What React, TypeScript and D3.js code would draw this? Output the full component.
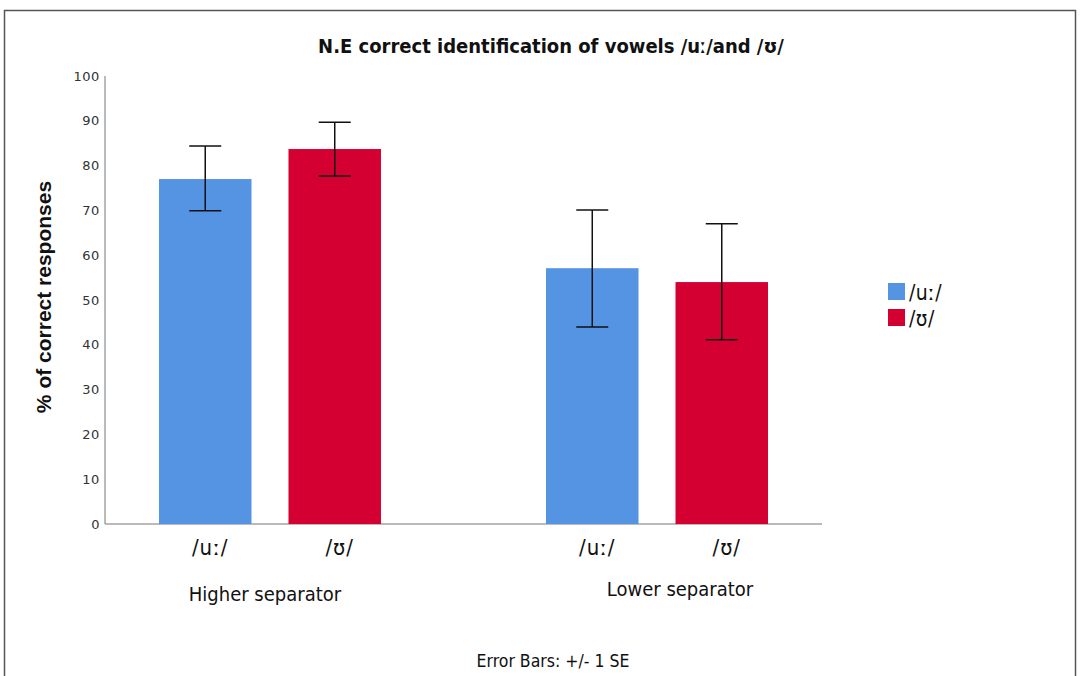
import React from "react";
import * as d3 from "d3";

const groups = ["Higher separator", "Lower separator"];
const series = ["/uː/", "/ʊ/"];
const seriesColors = ["#5594E2", "#D50032"];
const means = [
  [77.0, 83.7],
  [57.1, 54.0],
];
const errLow = [
  [69.9, 77.7],
  [44.0, 41.1],
];
const errHigh = [
  [84.4, 89.7],
  [70.1, 67.0],
];
const yTicks = [0, 10, 20, 30, 40, 50, 60, 70, 80, 90, 100];

const narrow = "'Liberation Sans Narrow', 'DejaVu Sans Condensed', 'Roboto Condensed', 'Liberation Sans', sans-serif";
const tickFont = "'DejaVu Sans', sans-serif";

export default function App() {
  const W = 1080, H = 676;
  const x0 = 105, x1 = 822, yBottom = 524, yTop = 76;
  const y = d3.scaleLinear().domain([0, 100]).range([yBottom, yTop]);
  const xg = d3.scaleBand().domain(groups).range([x0, x1]).paddingInner(0.4264).paddingOuter(0.1395);
  const xs = d3.scaleBand().domain(series).range([0, xg.bandwidth()]).paddingInner(0.2857).paddingOuter(0);
  const capW = 32;
  const groupLabelY = [601, 596];

  return (
    <svg width={W} height={H} style={{ position: "absolute", left: 0, top: 0, background: "#fff" }}>
      <rect x={4.5} y={10.5} width={1071} height={700} fill="none" stroke="#555" strokeWidth={1.5} />
      <text x={551} y={53} textAnchor="middle" fontFamily={narrow} fontWeight="bold" fontSize={20} fill="#111">
        N.E correct identification of vowels /uː/and /ʊ/
      </text>
      <line x1={x0} x2={x0} y1={yTop} y2={yBottom} stroke="#777" strokeWidth={1} />
      <line x1={x0} x2={x1} y1={yBottom} y2={yBottom} stroke="#777" strokeWidth={1} />
      {yTicks.map((t) => (
        <text key={t} x={100} y={y(t)} dy="0.35em" textAnchor="end" fontFamily={tickFont} fontSize={13} letterSpacing={0.6} fill="#333">
          {t}
        </text>
      ))}
      <text
        transform={`translate(51,297) rotate(-90)`}
        textAnchor="middle"
        fontFamily="'Liberation Sans', sans-serif"
        fontWeight="bold"
        fontSize={21}
        fill="#111"
      >
        % of correct responses
      </text>
      {groups.map((g, gi) => (
        <g key={g} transform={`translate(${xg(g)},0)`}>
          {series.map((s, si) => {
            const bx = xs(s)!;
            const cx = bx + xs.bandwidth() / 2;
            return (
              <g key={s}>
                <rect x={bx} y={y(means[gi][si])} width={xs.bandwidth()} height={yBottom - y(means[gi][si])} fill={seriesColors[si]} />
                <line x1={cx} x2={cx} y1={y(errLow[gi][si])} y2={y(errHigh[gi][si])} stroke="#111" strokeWidth={1.5} />
                <line x1={cx - capW / 2} x2={cx + capW / 2} y1={y(errLow[gi][si])} y2={y(errLow[gi][si])} stroke="#111" strokeWidth={1.5} />
                <line x1={cx - capW / 2} x2={cx + capW / 2} y1={y(errHigh[gi][si])} y2={y(errHigh[gi][si])} stroke="#111" strokeWidth={1.5} />
                <text x={cx + 5} y={555} textAnchor="middle" fontFamily={narrow} fontSize={22} letterSpacing={1} fill="#111">
                  {s}
                </text>
              </g>
            );
          })}
          <text x={xg.bandwidth() / 2 + (gi === 0 ? -5 : 23)} y={groupLabelY[gi]} textAnchor="middle" fontFamily={narrow} fontSize={20} fill="#111">
            {g}
          </text>
        </g>
      ))}
      {series.map((s, si) => (
        <g key={s} transform={`translate(888,${283 + si * 26})`}>
          <rect x={0} y={0} width={17} height={17} fill={seriesColors[si]} />
          <text x={21} y={9} dy="0.38em" fontFamily={narrow} fontSize={21} letterSpacing={0.5} fill="#111">
            {s}
          </text>
        </g>
      ))}
      <text x={553} y={667} textAnchor="middle" fontFamily={narrow} fontSize={17.5} fill="#111">
        Error Bars: +/- 1 SE
      </text>
    </svg>
  );
}
